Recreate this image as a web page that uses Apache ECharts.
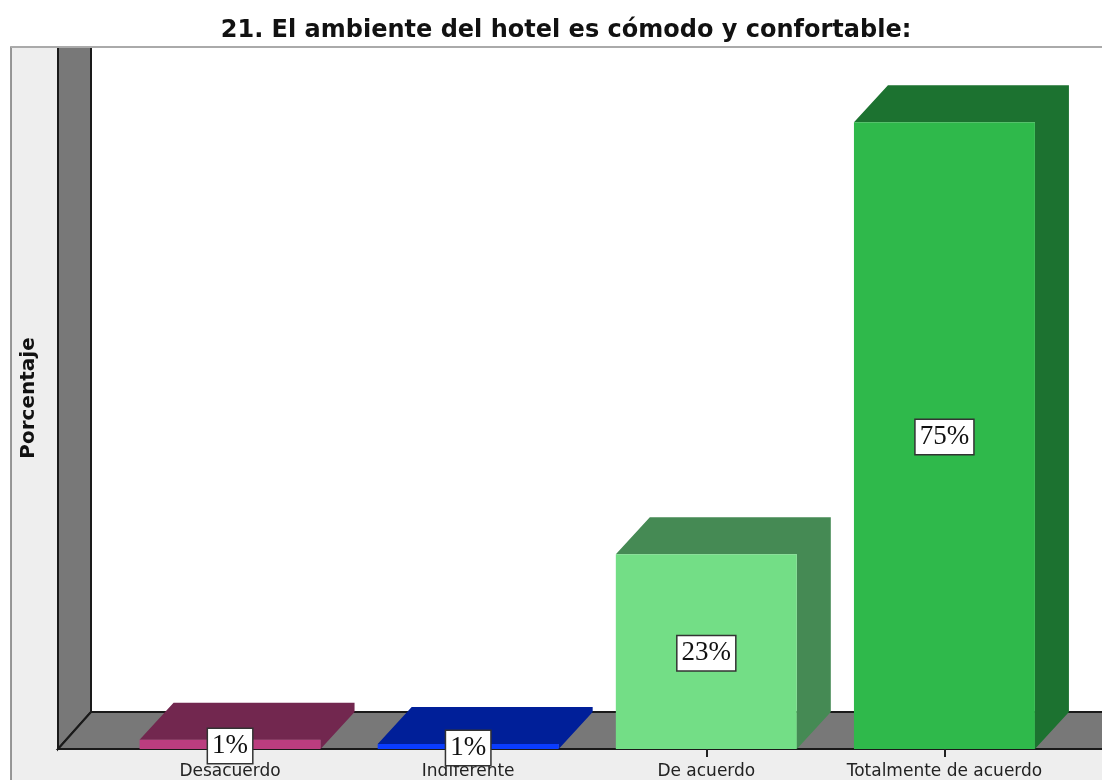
<!DOCTYPE html>
<html>
<head>
<meta charset="utf-8">
<style>html,body{margin:0;padding:0;background:#fff}#c{width:1102px;height:780px}</style>
<script src="https://cdn.jsdelivr.net/npm/echarts@6/dist/echarts.min.js"></script>
</head>
<body>
<div id="c"></div>
<script>
const titleText = '21. El ambiente del hotel es cómodo y confortable:';
const yName = 'Porcentaje';
const categories = ['Desacuerdo', 'Indiferente', 'De acuerdo', 'Totalmente de acuerdo'];
const percentages = [1.1, 0.6, 23.3, 75];
const frontColors = ['#bb3d7f', '#0a3cff', '#73de86', '#2fb94b'];
const sideColors = ['#72274f', '#001f99', '#458a54', '#1c7230'];
const DX = 34, DY = 37;

const chart = echarts.init(document.getElementById('c'), null, {renderer: 'canvas'});

function renderBar(params, api) {
  const i = api.value(0), v = api.value(1);
  const base = api.coord([i, 0]);
  const top = api.coord([i, v]);
  const w = api.size([1, 0])[0] * 0.76;
  const l = base[0] - w / 2, r = base[0] + w / 2, t = top[1], b = base[1];
  return {
    type: 'group',
    children: [
      {type: 'polygon', shape: {points: [[l, t], [l + DX, t - DY], [r + DX, t - DY], [r + DX, b - DY], [r, b], [r, t]]}, style: {fill: sideColors[i]}},
      {type: 'rect', shape: {x: l, y: t, width: w, height: b - t}, style: {fill: frontColors[i]}},
      {type: 'text', x: base[0], y: (t + b) / 2 + 1.5, z2: 10, style: {
        text: Math.round(v) + '%', align: 'center', verticalAlign: 'middle',
        fill: '#111', font: '27px "Liberation Serif"',
        backgroundColor: '#fff', borderColor: '#333', borderWidth: 1.5,
        padding: [4, 4, 3, 4]
      }}
    ]
  };
}

chart.setOption({
  animation: false,
  backgroundColor: '#fff',
  title: {
    text: titleText, left: 561, top: 14, textAlign: 'center',
    textStyle: {fontFamily: 'DejaVu Sans', fontWeight: 'bold', fontSize: 24, color: '#111'}
  },
  grid: {left: 111, right: 38.5, top: 47, bottom: 31},
  xAxis: {
    type: 'category', data: categories,
    axisLine: {show: false},
    axisTick: {show: true, alignWithLabel: true, length: 8, lineStyle: {color: '#222', width: 2}},
    axisLabel: {interval: 0, margin: 14, fontFamily: 'DejaVu Sans', fontSize: 17, color: '#222'}
  },
  yAxis: {
    type: 'value', min: 0, max: 84,
    name: yName, nameLocation: 'middle', nameGap: 72, nameRotate: 90,
    nameTextStyle: {fontFamily: 'DejaVu Sans', fontWeight: 'bold', fontSize: 20, color: '#111'},
    axisLine: {show: false}, axisTick: {show: false}, axisLabel: {show: false}, splitLine: {show: false}
  },
  graphic: {elements: [
    {type: 'rect', z: -5, shape: {x: 11, y: 47, width: 1100, height: 745}, style: {fill: '#eeeeee', stroke: '#777', lineWidth: 1.5}},
    {type: 'rect', z: -4, shape: {x: 91, y: 47, width: 1011, height: 665}, style: {fill: '#ffffff'}},
    {type: 'polygon', z: -3, shape: {points: [[58, 47], [91, 47], [91, 712], [58, 749]]}, style: {fill: '#787878', stroke: '#1a1a1a', lineWidth: 2}},
    {type: 'polygon', z: -3, shape: {points: [[58, 749], [91, 712], [1104, 712], [1104, 749]]}, style: {fill: '#787878', stroke: '#1a1a1a', lineWidth: 2}},
    {type: 'line', z: -2, shape: {x1: 11, y1: 47, x2: 1102, y2: 47}, style: {stroke: '#aaaaaa', lineWidth: 2}}
  ]},
  series: [{
    type: 'custom', clip: false, renderItem: renderBar,
    encode: {x: 0, y: 1},
    data: percentages.map((v, i) => [i, v])
  }]
});
</script>
</body>
</html>
